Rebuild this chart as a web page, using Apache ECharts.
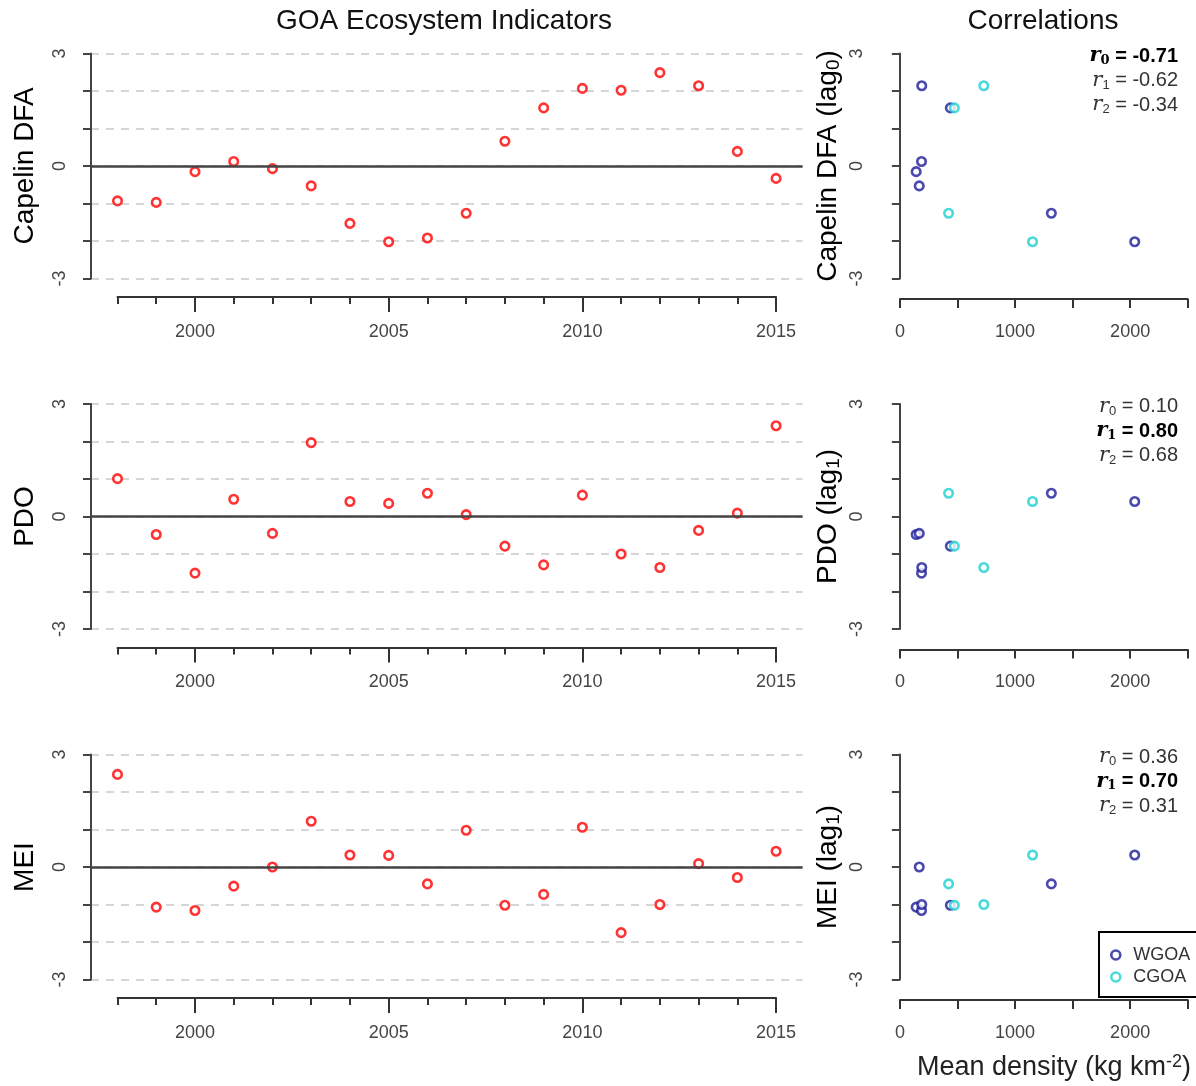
<!DOCTYPE html>
<html><head><meta charset="utf-8">
<script src="https://cdn.jsdelivr.net/npm/echarts@6/dist/echarts.min.js"></script>
<style>html,body{margin:0;padding:0;background:#fff}#c{width:1196px;height:1086px}</style>
</head><body><div id="c"></div>
<script>
// ---------- data ----------
const years = [1998,1999,2000,2001,2002,2003,2004,2005,2006,2007,2008,2009,2010,2011,2012,2013,2014,2015];
const capelinDFA = [-0.93,-0.97,-0.15,0.12,-0.07,-0.53,-1.53,-2.02,-1.92,-1.26,0.66,1.55,2.07,2.02,2.49,2.14,0.39,-0.33];
const pdo = [1.01,-0.48,-1.51,0.46,-0.45,1.97,0.40,0.35,0.62,0.05,-0.79,-1.29,0.57,-1.00,-1.36,-0.37,0.09,2.42];
const mei = [2.47,-1.07,-1.16,-0.51,0.00,1.22,0.32,0.31,-0.45,0.98,-1.02,-0.73,1.06,-1.75,-1.00,0.09,-0.28,0.42];
const wgoaYears = [2000,2001,2003,2005,2007,2009,2013];
const wgoaDensity = [143,190,170,2062,1330,443,192];
const cgoaYears = [2005,2007,2009,2013];
const cgoaDensity = [1165,428,478,737];
const indicatorNames = ['Capelin DFA','PDO','MEI'];
const lags = [0,1,1];
const corrValues = [['-0.71','-0.62','-0.34'],['0.10','0.80','0.68'],['0.36','0.70','0.31']];
const boldLag = [0,1,1];
const yearTickLabels = [2000,2005,2010,2015];
const densityTickLabels = [0,1000,2000];
const yTickLabels = [-3,0,3];

// ---------- layout ----------
const FONT = '"Liberation Sans", Arial, sans-serif';
const panelTop = [53.5, 404, 754.5];
const PH = 225;
const pxYear = 38.74, x1998 = 117.5, yAxisL = 91;
const pxDen = 0.11507, x0Den = 900;
const indicators = [capelinDFA, pdo, mei];

const grid = [], xAxis = [], yAxis = [], series = [], graphic = [];
const axisCol = '#444';
function addGrid(g, xa, ya) {
  const gi = grid.length;
  grid.push(Object.assign({containLabel:false}, g));
  xAxis.push(Object.assign({gridIndex: gi}, xa));
  yAxis.push(Object.assign({gridIndex: gi}, ya));
  return gi;
}
const hiddenY = {type:'value', show:false, min:0, max:1};
const yLabelFmt = v => (yTickLabels.indexOf(v) >= 0 ? String(v) : '');
function marker(col) {
  return {symbol:'circle', symbolSize:8.5, itemStyle:{color:'#fff', borderColor:col, borderWidth:2.6}};
}

for (let p = 0; p < 3; p++) {
  const top = panelTop[p];
  const xminYear = 1998 - (x1998 - yAxisL) / pxYear;
  const xmaxYear = 2015 + (x1998 - yAxisL) / pxYear;
  const gL = addGrid(
    {left: yAxisL, width: (xmaxYear - xminYear) * pxYear, top: top, height: PH},
    {type:'value', show:false, min: xminYear, max: xmaxYear},
    {type:'value', min:-3, max:3, interval:1,
     axisLine:{show:true, lineStyle:{color:axisCol, width:2}},
     axisTick:{show:true, length:8, lineStyle:{color:axisCol, width:2}},
     axisLabel:{rotate:90, margin:22, formatter:yLabelFmt, fontSize:18, color:'#444', fontFamily:FONT},
     splitLine:{show:true, lineStyle:{color:'#d6d6d6', width:2, type:[8,7]}}}
  );
  addGrid(
    {left: x1998, width: 17 * pxYear, top: top + 242.5, height: 1},
    {type:'value', min:1998, max:2015, interval:1, position:'bottom',
     axisLine:{show:true, lineStyle:{color:'#333', width:2}},
     axisTick:{show:true, length:7, lineStyle:{color:'#333', width:2}},
     axisLabel:{show:false}, splitLine:{show:false}},
    hiddenY
  );
  addGrid(
    {left: x1998 + 2 * pxYear, width: 15 * pxYear, top: top + 242.5, height: 1},
    {type:'value', min:2000, max:2015, interval:5, position:'bottom',
     axisLine:{show:false},
     axisTick:{show:true, length:15, lineStyle:{color:'#333', width:2}},
     axisLabel:{show:true, margin:26, fontSize:18, color:'#444', fontFamily:FONT,
       formatter: v => (yearTickLabels.indexOf(v) >= 0 ? String(v) : '')},
     splitLine:{show:false}},
    hiddenY
  );
  const gR = addGrid(
    {left: x0Den - 100 * pxDen, width: 2700 * pxDen, top: top, height: PH},
    {type:'value', show:false, min:-100, max:2600},
    {type:'value', min:-3, max:3, interval:1,
     axisLine:{show:true, lineStyle:{color:axisCol, width:2}},
     axisTick:{show:true, length:8, lineStyle:{color:axisCol, width:2}},
     axisLabel:{rotate:90, margin:22, formatter:yLabelFmt, fontSize:18, color:'#444', fontFamily:FONT},
     splitLine:{show:false}}
  );
  addGrid(
    {left: x0Den, width: 2500 * pxDen, top: top + 244.5, height: 1},
    {type:'value', min:0, max:2500, interval:500, position:'bottom',
     axisLine:{show:true, lineStyle:{color:'#333', width:2}},
     axisTick:{show:true, length:9, lineStyle:{color:'#333', width:2}},
     axisLabel:{show:true, margin:24, fontSize:18, color:'#444', fontFamily:FONT,
       formatter: v => (densityTickLabels.indexOf(v) >= 0 ? String(v) : '')},
     splitLine:{show:false}},
    hiddenY
  );

  const ind = indicators[p];
  series.push(Object.assign({
    type:'scatter', xAxisIndex:gL, yAxisIndex:gL,
    data: years.map((y, i) => [y, ind[i]]),
    markLine:{silent:true, symbol:'none', label:{show:false},
      lineStyle:{color:'#444', width:2.5, type:'solid'}, data:[{yAxis:0}]},
    z:3
  }, marker('#ff0000')));
  const lag = lags[p];
  series.push(Object.assign({
    name:'WGOA', type:'scatter', xAxisIndex:gR, yAxisIndex:gR,
    data: wgoaYears.map((yr, i) => [wgoaDensity[i], ind[years.indexOf(yr - lag)]])
  }, marker('#1c1c9a')));
  series.push(Object.assign({
    name:'CGOA', type:'scatter', xAxisIndex:gR, yAxisIndex:gR,
    data: cgoaYears.map((yr, i) => [cgoaDensity[i], ind[years.indexOf(yr - lag)]])
  }, marker('#1ccfcf')));

  const cy = top + PH / 2;
  graphic.push({type:'text', x:25, y:cy, rotation:Math.PI/2,
    style:{text:indicatorNames[p], fontSize:28, fontFamily:FONT, fill:'#000', align:'center', verticalAlign:'middle'}});
  graphic.push({type:'text', x:828, y:cy, rotation:Math.PI/2,
    style:{text:'{a|' + indicatorNames[p] + ' (lag}{s|' + lag + '}{a|)}', align:'center', verticalAlign:'middle',
      rich:{a:{fontSize:28, fontFamily:FONT, fill:'#000'},
            s:{fontSize:19, fontFamily:FONT, fill:'#000', padding:[12,0,0,0]}}}});
  for (let k = 0; k < 3; k++) {
    const b = (k === boldLag[p]);
    const col = b ? '#000' : '#333';
    graphic.push({type:'text', x:1178, y: top + 2.5 + 24.5 * k,
      style:{text:'{r|r}{s|' + k + '}{e| = ' + corrValues[p][k] + '}', align:'right', verticalAlign:'middle',
        rich:{
          r:{fontSize:21, fontFamily:'"DejaVu Serif", "Liberation Serif", serif', fontStyle:'italic', fontWeight: b ? 'bold' : 'normal', fill:col},
          s:{fontSize:13, fontFamily: b ? '"DejaVu Serif", serif' : FONT, fontWeight: b ? 'bold' : 'normal', fill:col, padding:[9,0,0,0]},
          e:{fontSize:20, fontFamily:FONT, fontWeight: b ? 'bold' : 'normal', fill:col}
        }}});
  }
}

graphic.push({type:'text', x:444, y:21, style:{text:'GOA Ecosystem Indicators', fontSize:28, fontFamily:FONT, fill:'#111', align:'center', verticalAlign:'middle'}});
graphic.push({type:'text', x:1043, y:21, style:{text:'Correlations', fontSize:28, fontFamily:FONT, fill:'#111', align:'center', verticalAlign:'middle'}});
graphic.push({type:'text', x:1054, y:1068,
  style:{text:'{a|Mean density (kg km}{s|-2}{a|)}', align:'center', verticalAlign:'middle',
    rich:{a:{fontSize:27, fontFamily:FONT, fill:'#222'}, s:{fontSize:18, fontFamily:FONT, fill:'#222', padding:[0,0,12,0]}}}});

const option = {
  backgroundColor:'#fff',
  animation:false,
  grid, xAxis, yAxis, series,
  legend:{data:['WGOA','CGOA'], orient:'vertical', left:1099, top:932,
    padding:[14,60,11,11], itemGap:4, itemWidth:9, itemHeight:9, icon:'circle',
    itemStyle:{color:'#fff', borderWidth:2.6},
    borderColor:'#000', borderWidth:2, borderRadius:0, backgroundColor:'#fff',
    textStyle:{fontSize:18, color:'#333', fontFamily:FONT, padding:[0,0,0,8]}},
  graphic:{elements:graphic}
};
const chart = echarts.init(document.getElementById('c'), null, {renderer:'canvas'});
chart.setOption(option);
</script></body></html>
